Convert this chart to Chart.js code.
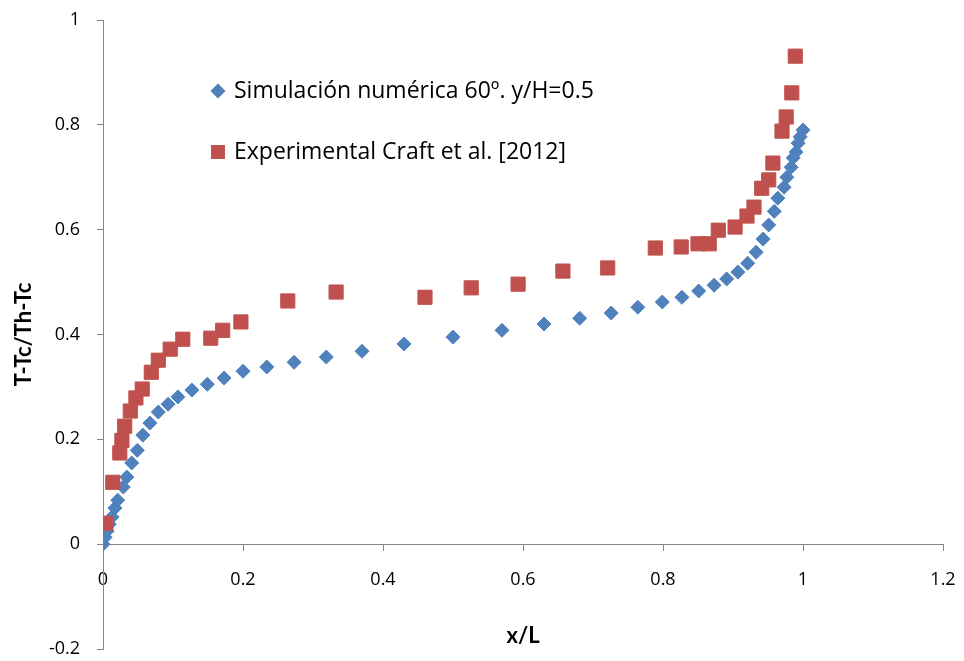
<!DOCTYPE html>
<html lang="es">
<head>
    <meta charset="UTF-8">
    <title>T-Tc/Th-Tc vs x/L</title>
    <style>
        html, body {
            margin: 0;
            padding: 0;
            background: #fff;
        }
        #chart-container {
            width: 964px;
            height: 661px;
        }
    </style>
    <script src="https://cdn.jsdelivr.net/npm/chart.js@4"></script>
</head>
<body>
    <div id="chart-container">
        <canvas id="graph" width="964" height="661"></canvas>
    </div>
    <script>
        // Simulación numérica 60º, y/H=0.5
        const simX = [0, 0.003, 0.006, 0.009, 0.013, 0.017, 0.021, 0.029, 0.034, 0.041,
            0.049, 0.057, 0.067, 0.079, 0.093, 0.107, 0.127, 0.149, 0.173, 0.200,
            0.234, 0.273, 0.319, 0.370, 0.430, 0.500, 0.570, 0.630, 0.681, 0.726,
            0.764, 0.799, 0.827, 0.851, 0.873, 0.891, 0.907, 0.921, 0.933, 0.943,
            0.951, 0.959, 0.964, 0.973, 0.977, 0.983, 0.986, 0.990, 0.993, 0.996, 1.000];
        const simY = [0, 0.013, 0.025, 0.038, 0.052, 0.069, 0.084, 0.109, 0.128, 0.155,
            0.179, 0.208, 0.231, 0.252, 0.267, 0.281, 0.294, 0.305, 0.317, 0.330,
            0.338, 0.347, 0.357, 0.368, 0.382, 0.395, 0.408, 0.420, 0.431, 0.441,
            0.452, 0.462, 0.471, 0.483, 0.494, 0.506, 0.519, 0.536, 0.557, 0.582,
            0.609, 0.635, 0.660, 0.681, 0.700, 0.719, 0.737, 0.748, 0.765, 0.777, 0.790];

        // Experimental Craft et al. [2012]
        const expX = [0.004, 0.014, 0.024, 0.027, 0.031, 0.039, 0.047, 0.056, 0.069, 0.079,
            0.096, 0.114, 0.154, 0.171, 0.197, 0.264, 0.333, 0.460, 0.526, 0.593,
            0.657, 0.721, 0.789, 0.826, 0.850, 0.866, 0.879, 0.903, 0.920, 0.930,
            0.941, 0.951, 0.957, 0.970, 0.976, 0.984, 0.989];
        const expY = [0.040, 0.118, 0.174, 0.198, 0.225, 0.254, 0.279, 0.296, 0.328, 0.351,
            0.372, 0.391, 0.393, 0.408, 0.424, 0.464, 0.481, 0.471, 0.489, 0.496,
            0.521, 0.527, 0.565, 0.567, 0.573, 0.573, 0.599, 0.605, 0.626, 0.643,
            0.679, 0.695, 0.727, 0.788, 0.815, 0.861, 0.931];

        const xTickVals = [0, 0.2, 0.4, 0.6, 0.8, 1, 1.2];
        const yTickVals = [-0.2, 0, 0.2, 0.4, 0.6, 0.8, 1];

        const TEXT_FONT = 'Open Sans';
        const TITLE_FONT = 'Lato';
        const AXIS_GRAY = '#868686';

        const toPoints = (xs, ys) => xs.map((x, i) => ({x: x, y: ys[i]}));

        // legend drawn inside the plot area, like the original
        const insideLegend = {
            id: 'insideLegend',
            afterDraw(chart) {
                const {ctx, chartArea} = chart;
                chart.data.datasets.forEach((ds, i) => {
                    const x = chartArea.left + 115;
                    const y = chartArea.top + 71 + i * 61;
                    ctx.save();
                    ctx.fillStyle = ds.backgroundColor;
                    ctx.beginPath();
                    if (ds.pointStyle === 'rectRot') {
                        ctx.moveTo(x - 7.5, y);
                        ctx.lineTo(x, y - 7.5);
                        ctx.lineTo(x + 7.5, y);
                        ctx.lineTo(x, y + 7.5);
                        ctx.closePath();
                    } else {
                        ctx.rect(x - 7, y - 7, 14, 14);
                    }
                    ctx.fill();
                    ctx.fillStyle = '#000';
                    ctx.font = '23px "' + TEXT_FONT + '"';
                    ctx.textBaseline = 'middle';
                    ctx.fillText(ds.label, x + 16, y);
                    ctx.restore();
                });
            }
        };

        // keep the plot area where the layout padding puts it
        const noLabelPadding = s => {
            s.paddingTop = 0;
            s.paddingBottom = 0;
            s.paddingLeft = 0;
            s.paddingRight = 0;
        };

        const ctx = document.getElementById('graph').getContext('2d');
        const chart = new Chart(ctx, {
            type: 'scatter',
            data: {
                datasets: [{
                    label: 'Simulación numérica 60º. y/H=0.5',
                    data: toPoints(simX, simY),
                    pointStyle: 'rectRot',
                    pointRadius: 7,
                    borderWidth: 1,
                    backgroundColor: '#4F81BD',
                    borderColor: '#4F81BD',
                    order: 1
                }, {
                    label: 'Experimental Craft et al. [2012]',
                    data: toPoints(expX, expY),
                    pointStyle: 'rect',
                    pointRadius: 10,
                    borderWidth: 1,
                    backgroundColor: '#C0504D',
                    borderColor: '#C0504D',
                    order: 0
                }]
            },
            options: {
                responsive: false,
                animation: false,
                layout: {
                    padding: {left: 0, top: 20, right: 21, bottom: 12}
                },
                plugins: {
                    legend: {display: false},
                    tooltip: {enabled: false}
                },
                scales: {
                    x: {
                        type: 'linear',
                        position: {y: 0},
                        min: 0,
                        max: 1.2,
                        afterBuildTicks: s => { s.ticks = xTickVals.map(v => ({value: v})); },
                        afterFit: noLabelPadding,
                        grid: {drawOnChartArea: false, tickLength: 6, color: AXIS_GRAY},
                        border: {color: AXIS_GRAY, width: 1},
                        ticks: {
                            padding: 19,
                            color: '#000',
                            font: {family: TEXT_FONT, size: 18},
                            callback: v => String(v)
                        },
                        title: {
                            display: true,
                            text: 'x/L',
                            color: '#000',
                            font: {family: TITLE_FONT, size: 22, weight: 'bold'},
                            padding: {top: 13, bottom: 0}
                        }
                    },
                    y: {
                        min: -0.2,
                        max: 1,
                        afterBuildTicks: s => { s.ticks = yTickVals.map(v => ({value: v})); },
                        afterFit: s => { noLabelPadding(s); s.width = 103; },
                        grid: {drawOnChartArea: false, tickLength: 6, color: AXIS_GRAY},
                        border: {color: AXIS_GRAY, width: 1},
                        ticks: {
                            padding: 17,
                            color: '#000',
                            font: {family: TEXT_FONT, size: 18},
                            callback: v => String(v)
                        },
                        title: {
                            display: true,
                            text: 'T-Tc/Th-Tc',
                            color: '#000',
                            font: {family: TITLE_FONT, size: 22, weight: 'bold'},
                            padding: {top: 11, bottom: 0}
                        }
                    }
                }
            },
            plugins: [insideLegend]
        });
    </script>
</body>
</html>
